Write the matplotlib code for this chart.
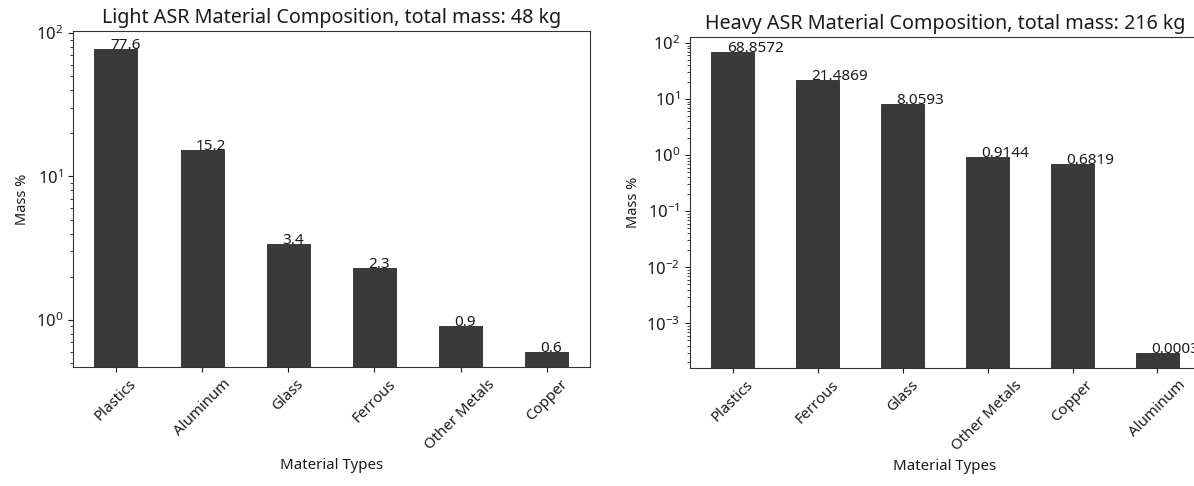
import numpy as np
import matplotlib
matplotlib.use("Agg")
import matplotlib.pyplot as plt

plt.rcParams['font.family'] = ['Noto Sans', 'DejaVu Sans']
plt.rcParams['mathtext.fontset'] = 'dejavusans'
plt.rcParams['text.color'] = '#1a1a1a'
plt.rcParams['axes.labelcolor'] = '#1a1a1a'
plt.rcParams['xtick.color'] = '#1a1a1a'
plt.rcParams['ytick.color'] = '#1a1a1a'

# Light ASR composition (mass %)
light_materials = ["Plastics", "Aluminum", "Glass", "Ferrous", "Other Metals", "Copper"]
light_values = [77.6, 15.2, 3.4, 2.3, 0.9, 0.6]
light_total_kg = 48

# Heavy ASR composition (mass %)
heavy_materials = ["Plastics", "Ferrous", "Glass", "Other Metals", "Copper", "Aluminum"]
heavy_values = [68.8572, 21.4869, 8.0593, 0.9144, 0.6819, 0.0003]
heavy_total_kg = 216

BAR_COLOR = "#3a3a3a"

fig = plt.figure(figsize=(11.94, 4.86), dpi=100)
ax1 = fig.add_axes([0.061, 0.245, 0.433, 0.691])
ax2 = fig.add_axes([0.578, 0.243, 0.427, 0.681])


def draw(ax, names, values, title, ylim):
    x = np.arange(len(names))
    ax.bar(x, values, width=0.5, color=BAR_COLOR, edgecolor="#2a2a2a",
           linewidth=0.6, log=True)
    ax.set_yscale("log")
    ax.set_xlim(-0.5, len(names) - 0.5)
    ax.set_ylim(*ylim)
    for xi, v in zip(x, values):
        ax.annotate(f"{v:g}", (xi - 0.07, v), fontsize=11)
    ax.set_xticks(x)
    ax.set_xticklabels(names, rotation=45, ha="center", fontsize=10.8)
    ax.tick_params(axis="y", labelsize=12)
    ax.set_xlabel("Material Types", fontsize=10.8)
    ax.set_ylabel("Mass %", fontsize=10.5)
    ax.set_title(title, fontsize=14.2)
    for s in ax.spines.values():
        s.set_color("#333333")


draw(ax1, light_materials, light_values,
     f"Light ASR Material Composition, total mass: {light_total_kg} kg",
     (0.47, 103))
draw(ax2, heavy_materials, heavy_values,
     f"Heavy ASR Material Composition, total mass: {heavy_total_kg} kg",
     (1.6e-4, 128))

fig.savefig("out.png", dpi=100)
